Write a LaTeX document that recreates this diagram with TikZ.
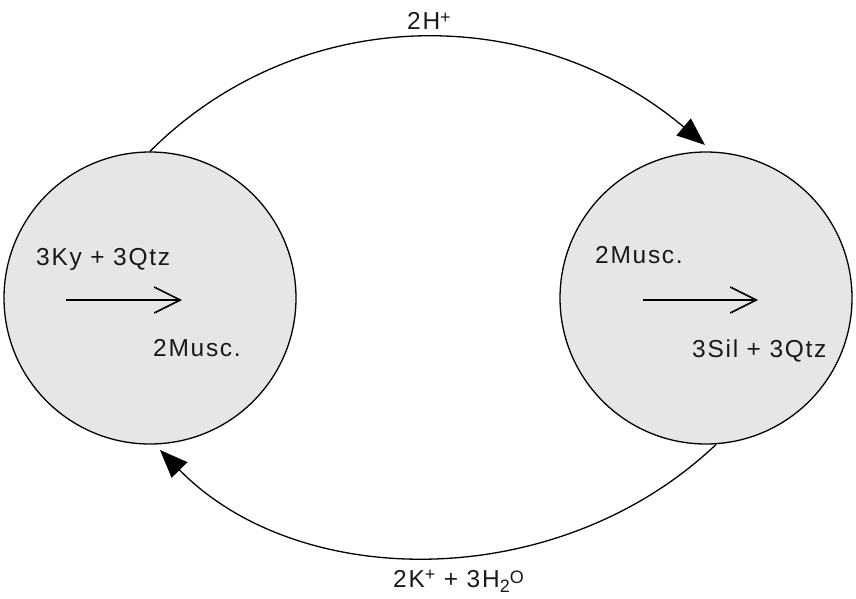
\documentclass[tikz,border=0pt]{standalone}
\usepackage{fontspec}
\setmainfont{Liberation Sans}
\newfontfamily\lblfont[LetterSpace=7]{Liberation Sans}
\usetikzlibrary{arrows.meta}
\definecolor{cellgray}{RGB}{230,230,230}
\newcommand\mysup[3]{\raisebox{#1}{\fontsize{#2}{#2}\selectfont #3}}
\begin{document}
\begin{tikzpicture}[x=1pt,y=-1pt,
  cell/.style={circle, draw=black, line width=1.3pt, fill=cellgray, minimum size=292pt, inner sep=0pt},
  lbl/.style={font=\lblfont\fontsize{24.5}{28}\selectfont, inner sep=0pt, anchor=base west, text=black!90},
  flow/.style={line width=1.3pt, -{Triangle[length=28pt,width=22pt]}},
  react/.style={line width=1.6pt, -{Straight Barb[length=26pt,width=26pt,line width=1.6pt]}}]
\useasboundingbox (0,0) rectangle (856,599);
\node[cell] (L) at (150,298) {};
\node[cell] (R) at (706,298) {};
% left cell contents
\node[lbl] (l1) at (36,265) {3Ky + 3Qtz};
\coordinate (la) at (66,300);
\coordinate (lb) at (182,300);
\draw[react] (la) -- (lb);
\node[lbl] (l2) at (153,356) {2Musc.};
% right cell contents
\node[lbl] (r1) at (595,263) {2Musc.};
\coordinate (ra) at (643,300);
\coordinate (rb) at (758,300);
\draw[react] (ra) -- (rb);
\node[lbl] (r2) at (692,357) {3Sil + 3Qtz};
% connectors
\coordinate (rtop) at (705,145);
\draw[flow] (L.north) .. controls (300,1.5) and (535,1.5) .. (rtop);
\coordinate (lbot) at (160,450);
\draw[flow] (R.-86) .. controls (560,593) and (300,593) .. (lbot);
\node[lbl] (top) at (407,30) {2H\mysup{6.4pt}{18}{+}};
\node[lbl] (bot) at (393,587) {2K\mysup{6.4pt}{18}{+} + 3H\mysup{-5pt}{18}{2}\mysup{4pt}{18}{O}};
\end{tikzpicture}
\end{document}
